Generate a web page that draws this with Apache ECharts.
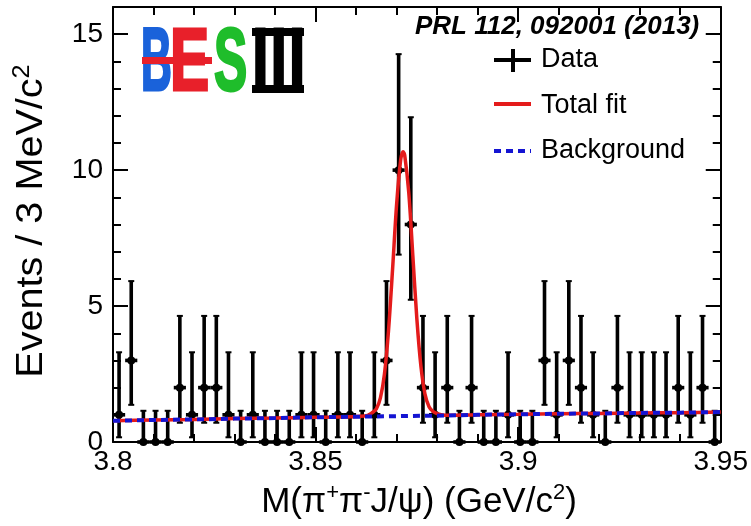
<!DOCTYPE html>
<html>
<head>
<meta charset="utf-8">
<script src="https://cdn.jsdelivr.net/npm/echarts@6/dist/echarts.min.js"></script>
<style>
  html, body { margin: 0; padding: 0; background: #fff; }
  #chart { width: 751px; height: 526px; }
</style>
</head>
<body>
<div id="chart"></div>
<script>
// Histogram of M(pi+ pi- J/psi): 50 bins of 3 MeV from 3.80 to 3.95 GeV
const binStart = 3.8;
const binWidth = 0.003;
const counts = [
  1, 3, 0, 0, 0, 2, 1, 2, 2, 1,
  0, 1, 0, 0, 0, 1, 1, 0, 1, 1,
  0, 1, 3, 10, 8, 2, 1, 2, 0, 2,
  0, 0, 1, 0, 0, 3, 1, 3, 2, 1,
  0, 2, 1, 1, 1, 1, 2, 1, 2, 0
];

// Asymmetric Poisson error bars for each observed count
const errCounts = [0, 1, 2, 3, 8, 10];
const errDown   = [0, 0.827, 1.292, 1.633, 2.768, 3.108];
const errUp     = [1.148, 2.300, 2.638, 2.918, 3.945, 4.266];

// Total fit (signal peak + background)
const fitX = [3.800, 3.810, 3.820, 3.830, 3.840, 3.850, 3.855, 3.860,
  3.862, 3.863, 3.864, 3.865, 3.866, 3.867, 3.868, 3.869, 3.870, 3.871,
  3.8716, 3.872, 3.873, 3.874, 3.875, 3.876, 3.877, 3.878, 3.879, 3.880,
  3.881, 3.883, 3.886, 3.890, 3.900, 3.910, 3.920, 3.930, 3.940, 3.950];
const fitY = [0.78, 0.81, 0.83, 0.86, 0.88, 0.91, 0.92, 0.94,
  0.96, 0.99, 1.08, 1.22, 1.62, 2.50, 4.10, 6.35, 8.74, 10.38,
  10.68, 10.55, 9.17, 6.86, 4.52, 2.78, 1.76, 1.30, 1.12, 1.04,
  1.00, 0.98, 0.99, 1.00, 1.02, 1.04, 1.05, 1.07, 1.08, 1.10];

// Background component
const bkgX = [3.80, 3.81, 3.82, 3.83, 3.84, 3.85, 3.86, 3.87,
  3.88, 3.89, 3.90, 3.91, 3.92, 3.93, 3.94, 3.95];
const bkgY = [0.78, 0.81, 0.83, 0.86, 0.88, 0.91, 0.93, 0.95,
  0.97, 1.00, 1.02, 1.04, 1.05, 1.07, 1.08, 1.10];

const legendLabels = ['Data', 'Total fit', 'Background'];
const refText = 'PRL 112, 092001 (2013)';

const RED = '#e41b1b';
const BLUE = '#1414d2';
const FONT = '"Liberation Sans", Arial, Helvetica, sans-serif';

const points = counts.map((n, i) => {
  const k = errCounts.indexOf(n);
  const x = binStart + binWidth * (i + 0.5);
  return [x, n, n - errDown[k], n + errUp[k]];
});

const chart = echarts.init(document.getElementById('chart'), null, { renderer: 'canvas' });

const black = { color: '#000', width: 2 };

function xAxisDef(pos, showLabel) {
  return {
    type: 'value', position: pos, min: 3.8, max: 3.95, interval: 0.05,
    axisLine: { show: true, onZero: false, lineStyle: black },
    axisTick: { show: true, inside: true, length: 15, lineStyle: black },
    minorTick: { show: true, splitNumber: 5, length: 8, lineStyle: black },
    splitLine: { show: false },
    axisLabel: showLabel ? {
      show: true, color: '#000', fontFamily: FONT, fontSize: 28, margin: 6
    } : { show: false }
  };
}

function yAxisDef(pos, interval, len, showLine, showLabel) {
  return {
    type: 'value', position: pos, min: 0, max: 16, interval: interval,
    axisLine: { show: showLine, onZero: false, lineStyle: black },
    axisTick: { show: true, inside: true, length: len, lineStyle: black },
    splitLine: { show: false },
    axisLabel: showLabel ? {
      show: true, color: '#000', fontFamily: FONT, fontSize: 28, margin: 10,
      formatter: v => (v % 5 === 0 ? String(v) : '')
    } : { show: false }
  };
}

function titleRich(size) {
  return {
    m: { fontFamily: FONT, fontSize: size, lineHeight: size + 6, color: '#000' },
    s: { fontFamily: FONT, fontSize: Math.round(size * 0.64), lineHeight: Math.round(size * 0.64), color: '#000', verticalAlign: 'top' }
  };
}

const logoText = (txt, x, y, sx, color, font, size) => ({
  type: 'text', x: x, y: y, scaleX: sx,
  style: {
    text: txt, fontFamily: font, fontWeight: 'bold', fontSize: size,
    fill: color, stroke: color, lineWidth: 3, verticalAlign: 'middle'
  }
});

const option = {
  animation: false,
  backgroundColor: '#fff',
  grid: { left: 113, right: 29, top: 7, bottom: 84, containLabel: false },
  xAxis: [xAxisDef('bottom', true), xAxisDef('top', false)],
  yAxis: [
    yAxisDef('left', 5, 15, true, true),
    yAxisDef('left', 1, 8, false, false),
    yAxisDef('right', 5, 15, true, false),
    yAxisDef('right', 1, 8, false, false)
  ],
  series: [
    {
      name: legendLabels[0],
      type: 'custom',
      xAxisIndex: 0, yAxisIndex: 0,
      z: 2,
      clip: false,
      data: points,
      renderItem: function (params, api) {
        const x = api.value(0), y = api.value(1);
        const c = api.coord([x, y]);
        const lo = api.coord([x, api.value(2)]);
        const hi = api.coord([x, api.value(3)]);
        const halfW = api.size([binWidth, 0])[0] / 2;
        const st = { stroke: '#000', lineWidth: 3.6 };
        const cap = 3;
        return {
          type: 'group',
          children: [
            { type: 'line', shape: { x1: c[0], y1: lo[1], x2: c[0], y2: hi[1] }, style: st },
            { type: 'line', shape: { x1: c[0] - cap, y1: hi[1], x2: c[0] + cap, y2: hi[1] }, style: { stroke: '#000', lineWidth: 2 } },
            { type: 'line', shape: { x1: c[0] - cap, y1: lo[1], x2: c[0] + cap, y2: lo[1] }, style: { stroke: '#000', lineWidth: 2 } },
            { type: 'line', shape: { x1: c[0] - halfW, y1: c[1], x2: c[0] + halfW, y2: c[1] }, style: st },
            { type: 'circle', shape: { cx: c[0], cy: c[1], r: 4 }, style: { fill: '#000' } }
          ]
        };
      }
    },
    {
      name: legendLabels[1],
      type: 'line',
      xAxisIndex: 0, yAxisIndex: 0,
      z: 3,
      data: fitX.map((x, i) => [x, fitY[i]]),
      showSymbol: false,
      smooth: 0.3,
      lineStyle: { color: RED, width: 3.5 }
    },
    {
      name: legendLabels[2],
      type: 'line',
      xAxisIndex: 0, yAxisIndex: 0,
      z: 4,
      data: bkgX.map((x, i) => [x, bkgY[i]]),
      showSymbol: false,
      lineStyle: { color: BLUE, width: 4, type: [7, 5] }
    }
  ],
  graphic: [
    // axis titles
    {
      type: 'text', x: 32, y: 221, rotation: Math.PI / 2, scaleX: 1.1,
      style: {
        text: '{m|Events / 3 MeV/c}{s|2}', rich: titleRich(36),
        align: 'center', verticalAlign: 'middle'
      }
    },
    {
      type: 'text', x: 419, y: 502,
      style: {
        text: '{m|M(π}{s|+}{m|π}{s|-}{m|J/ψ) (GeV/c}{s|2}{m|)}', rich: titleRich(35),
        align: 'center', verticalAlign: 'middle'
      }
    },
    // publication reference
    {
      type: 'text', x: 415, y: 27,
      style: {
        text: refText, fontFamily: FONT, fontSize: 26, fontWeight: 'bold',
        fontStyle: 'italic', fill: '#000', align: 'left', verticalAlign: 'middle'
      }
    },
    // legend
    { type: 'line', shape: { x1: 494, y1: 60, x2: 531, y2: 60 }, style: { stroke: '#000', lineWidth: 4 } },
    { type: 'line', shape: { x1: 513, y1: 49, x2: 513, y2: 72 }, style: { stroke: '#000', lineWidth: 4 } },
    { type: 'line', shape: { x1: 494, y1: 104, x2: 531, y2: 104 }, style: { stroke: RED, lineWidth: 4 } },
    { type: 'line', shape: { x1: 494, y1: 151, x2: 531, y2: 151 }, style: { stroke: BLUE, lineWidth: 4, lineDash: [7, 5] } },
    { type: 'text', x: 541, y: 60, style: { text: legendLabels[0], fontFamily: FONT, fontSize: 27, fill: '#000', verticalAlign: 'middle' } },
    { type: 'text', x: 541, y: 106, style: { text: legendLabels[1], fontFamily: FONT, fontSize: 27, fill: '#000', verticalAlign: 'middle' } },
    { type: 'text', x: 541, y: 151, style: { text: legendLabels[2], fontFamily: FONT, fontSize: 27, fill: '#000', verticalAlign: 'middle' } },
    // BESIII logo
    logoText('B', 141, 65, 0.48, '#1a62da', FONT, 89),
    logoText('E', 170, 65, 0.66, '#e8202a', FONT, 89),
    { type: 'rect', shape: { x: 142, y: 57, width: 70, height: 7 }, style: { fill: '#e8202a' } },
    logoText('S', 214, 65, 0.56, '#1fbd2b', FONT, 89),
    logoText('Ⅲ', 251, 59, 0.66, '#000', '"Noto Sans CJK SC", sans-serif', 84),
    { type: 'rect', shape: { x: 252, y: 28, width: 52, height: 8 }, style: { fill: '#000' } },
    { type: 'rect', shape: { x: 252, y: 85, width: 52, height: 8 }, style: { fill: '#000' } }
  ]
};

chart.setOption(option);
</script>
</body>
</html>
